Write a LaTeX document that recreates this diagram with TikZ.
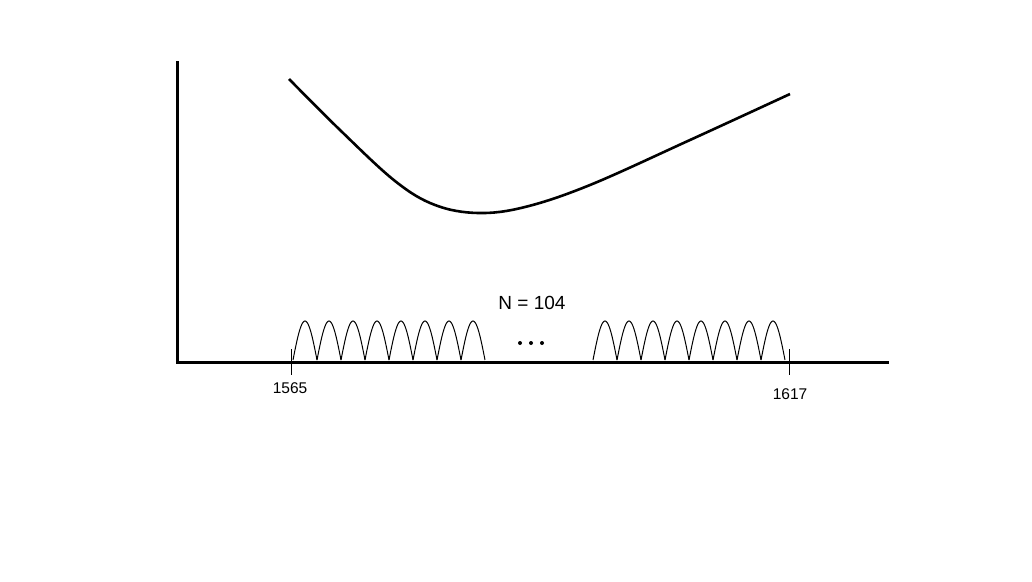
\documentclass[tikz,border=0pt]{standalone}
\usepackage{fontspec}
\setmainfont{Liberation Sans}
\begin{document}
\begin{tikzpicture}[x=1pt,y=-1pt,
  axis/.style={line width=3pt},
  curve/.style={line width=2.6pt},
  hump/.style={line width=1pt},
  tickmark/.style={line width=1pt},
  lbl/.style={font=\fontsize{15.5}{17}\selectfont, inner sep=0pt},
  nlbl/.style={font=\fontsize{19}{22}\selectfont, inner sep=0pt}]
\useasboundingbox (0,0) rectangle (1032,581);
\coordinate (ytop) at (177,61);
\coordinate (org) at (177,362);
\coordinate (xend) at (889,362);
\draw[axis] (ytop) -- (org) -- (xend);
% ticks
\coordinate (t1a) at (291,349); \coordinate (t1b) at (291,375);
\coordinate (t2a) at (789,349); \coordinate (t2b) at (789,375);
\draw[tickmark] (t1a) -- (t1b);
\draw[tickmark] (t2a) -- (t2b);
\node[lbl] (l1565) at (290,388) {1565};
\node[lbl] (l1617) at (790,394) {1617};
% curve
\draw[curve] plot[smooth, tension=0.6] coordinates {(289,79) (340,130) (395,181) (435,205) (478,213) (525,207) (590,185) (690,140) (790,94)};
% humps
\foreach \s in {293,317,...,469} {
  \draw[hump] plot[domain=0:1, samples=25, variable=\t] ({\s+24*\t},{360-39*sin(180*\t)});
}
\foreach \s in {593,617,...,769} {
  \draw[hump] plot[domain=0:1, samples=25, variable=\t] ({\s+24*\t},{360-39*sin(180*\t)});
}
\node[nlbl] (nlab) at (532,303) {N = 104};
\foreach \x in {520,531,542} \fill (\x,343) circle (2pt);
\end{tikzpicture}
\end{document}
